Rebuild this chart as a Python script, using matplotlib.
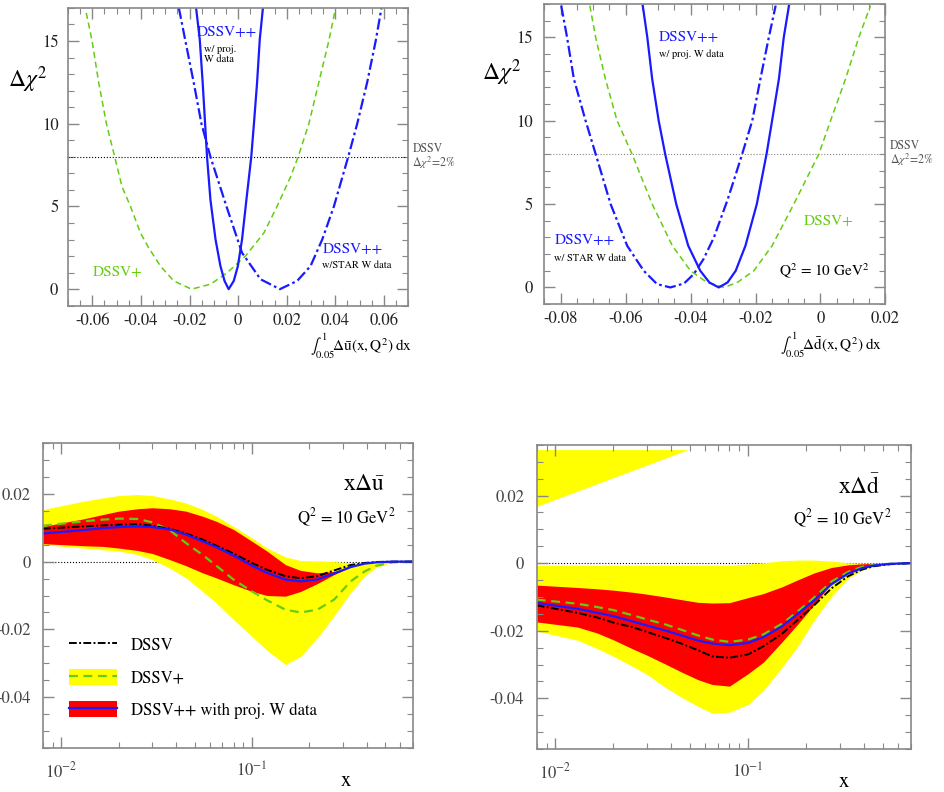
import matplotlib
matplotlib.use('Agg')
import matplotlib.pyplot as plt
from matplotlib.ticker import MultipleLocator, FuncFormatter
from matplotlib.patches import Patch
from matplotlib.lines import Line2D

plt.rcParams['font.family'] = ['STIXGeneral', 'DejaVu Serif']
plt.rcParams['mathtext.fontset'] = 'stix'

# ---- top left: chi2 profile vs integral of ubar
ul_dssvp_x = [-0.0625, -0.0601, -0.0574, -0.0542, -0.0508, -0.0478, -0.0443, -0.0402, -0.0368, -0.032,
              -0.0265, -0.0192, -0.0114, -0.0069, -0.0045, 0.003, 0.0106, 0.016, 0.0216, 0.0247,
              0.0291, 0.0332, 0.0373, 0.0397]
ul_dssvp_y = [16.7, 15, 12.5, 10, 8, 6.2, 5, 3.4, 2.5, 1.4,
              0.5, 0, 0.3, 0.75, 1.0, 2.0, 3.4, 5.0, 6.8, 8,
              10, 12.5, 15, 16.7]
ul_star_x = [-0.0244, -0.0217, -0.0183, -0.0151, -0.0114, -0.0048, 0.0016, 0.0092, 0.0172,
             0.0243, 0.0298, 0.0346, 0.0394, 0.0453, 0.049, 0.0531, 0.0566, 0.059]
ul_star_y = [17, 15, 12.5, 10, 8, 5, 2.2, 0.6, 0,
             0.5, 1.4, 3.0, 5.0, 8, 10, 12.5, 15, 17]
ul_proj_x = [-0.0173, -0.0158, -0.0146, -0.0136, -0.0128, -0.0114, -0.0093, -0.0073, -0.0056, -0.0039,
             -0.0018, -0.0001, 0.0016, 0.0034, 0.0054, 0.0065, 0.0078, 0.0089, 0.0102]
ul_proj_y = [17, 15.1, 12.5, 10, 8, 5.4, 3.0, 1.4, 0.5, 0,
             0.5, 1.4, 3.0, 5.4, 8, 10, 12.5, 15.1, 17]

# ---- top right: chi2 profile vs integral of dbar
dl_dssvp_x = [-0.071, -0.0692, -0.0662, -0.0626, -0.058, -0.0518, -0.0456, -0.040, -0.0349, -0.0297,
              -0.0256, -0.0205, -0.0149, -0.0082, -0.0005, 0.0031, 0.0077, 0.0118, 0.0154]
dl_dssvp_y = [16.9, 15, 12.5, 10, 8, 5, 2.5, 1, 0.3, 0,
              0.3, 1, 2.5, 5, 8, 10, 12.5, 15, 16.9]
dl_star_x = [-0.0798, -0.078, -0.0759, -0.0723, -0.0692, -0.0646, -0.0595, -0.0544, -0.0503, -0.0462,
             -0.042, -0.039, -0.036, -0.0328, -0.0287, -0.0267, -0.0241, -0.021, -0.0185, -0.0159, -0.0138]
dl_star_y = [16.9, 15, 12.5, 10, 8, 5, 2.5, 1, 0.2, 0,
             0.24, 0.8, 1.7, 3.0, 5.2, 6.4, 8, 10, 12.5, 15, 16.9]
dl_proj_x = [-0.0547, -0.0533, -0.0518, -0.0498, -0.0478, -0.0444, -0.0407, -0.037, -0.0342, -0.0313,
             -0.0286, -0.0261, -0.0231, -0.0196, -0.0166, -0.0149, -0.0128, -0.0113, -0.0097]
dl_proj_y = [16.9, 15, 12.5, 10, 8, 5, 2.5, 1, 0.3, 0,
             0.3, 1, 2.5, 5, 8, 10, 12.5, 15, 16.9]

# ---- bottom: x*Delta ubar and x*Delta dbar at Q2 = 10 GeV2
xg = [0.008, 0.013, 0.0165, 0.02, 0.025, 0.03, 0.037, 0.045, 0.055, 0.065, 0.08,
      0.1, 0.12, 0.15, 0.18, 0.22, 0.27, 0.33, 0.39, 0.45, 0.55, 0.7]

u_yel_hi = [0.0154, 0.0178, 0.0188, 0.0195, 0.0198, 0.0195, 0.0185, 0.0173, 0.0154, 0.0134, 0.0104,
            0.007, 0.004, 0.0014, 0.0003, 0.0002, 0.0, -0.0003, -0.0004, -0.0002, 0.0, 0.0]
u_yel_lo = [0.005, 0.004, 0.0035, 0.0031, 0.0021, 0.0006, -0.0019, -0.0048, -0.0088, -0.0122, -0.0171,
            -0.0221, -0.0262, -0.0304, -0.028, -0.0226, -0.016, -0.0091, -0.0043, -0.0016, -0.0002, 0.0]
u_red_hi = [0.0104, 0.0126, 0.0139, 0.0149, 0.0156, 0.0159, 0.0156, 0.0149, 0.0134, 0.0119, 0.0095,
            0.006, 0.0031, -0.0009, -0.0026, -0.0033, -0.0029, -0.0016, -0.0006, -0.0002, 0.0, 0.0]
u_red_lo = [0.0053, 0.0047, 0.0045, 0.004, 0.0033, 0.0024, 0.0006, -0.0012, -0.0033, -0.0048, -0.0068,
            -0.0088, -0.01, -0.0102, -0.0088, -0.0065, -0.0038, -0.0016, -0.0006, -0.0002, 0.0, 0.0]
u_dssv = [0.0097, 0.0104, 0.0107, 0.0109, 0.0111, 0.0106, 0.0097, 0.0083, 0.0065, 0.0047, 0.0024,
          -0.0004, -0.0024, -0.0043, -0.0049, -0.0043, -0.0026, -0.001, -0.0004, -0.0001, 0.0, 0.0]
u_dssvp = [0.0106, 0.0119, 0.0124, 0.0127, 0.0126, 0.0116, 0.0093, 0.0055, 0.002, -0.0012, -0.0053,
           -0.0088, -0.0114, -0.0142, -0.015, -0.0142, -0.0112, -0.0058, -0.0029, -0.0012, -0.0002, 0.0]
u_dssvpp = [0.0083, 0.0093, 0.0099, 0.0102, 0.0104, 0.0102, 0.0095, 0.008, 0.006, 0.0043, 0.0018,
            -0.0012, -0.0033, -0.0053, -0.0058, -0.0053, -0.0035, -0.0016, -0.0006, -0.0002, 0.0, 0.0]

d_yel_hi = [-0.0006, -0.0006, -0.0006, -0.0006, -0.0006, -0.0006, -0.0006, -0.0006, -0.0006, -0.0006, -0.0006,
            -0.0003, 0.0001, 0.0007, 0.0009, 0.0009, 0.0006, 0.0001, 0.0, 0.0, 0.0, 0.0]
d_yel_lo = [-0.0201, -0.0228, -0.0253, -0.0276, -0.0305, -0.033, -0.0367, -0.0397, -0.0424, -0.0444, -0.0441,
            -0.0418, -0.0377, -0.0308, -0.0248, -0.0169, -0.01, -0.0045, -0.0021, -0.0009, -0.0002, 0.0]
d_red_hi = [-0.0065, -0.0072, -0.0076, -0.008, -0.0086, -0.0092, -0.01, -0.0108, -0.0116, -0.0118, -0.0117,
            -0.0102, -0.009, -0.007, -0.005, -0.0029, -0.0013, -0.0005, -0.0002, -0.0001, 0.0, 0.0]
d_red_lo = [-0.0174, -0.0189, -0.0207, -0.0227, -0.0253, -0.0273, -0.0298, -0.0322, -0.0345, -0.0359, -0.0364,
            -0.0327, -0.0293, -0.0233, -0.0182, -0.0123, -0.006, -0.0026, -0.0011, -0.0004, -0.0001, 0.0]
d_dssv = [-0.0125, -0.0147, -0.0161, -0.0176, -0.0189, -0.0204, -0.0221, -0.0238, -0.0258, -0.0276, -0.028,
          -0.027, -0.0246, -0.0209, -0.0169, -0.0125, -0.0075, -0.0039, -0.0019, -0.0009, -0.0003, 0.0]
d_dssvp = [-0.0108, -0.012, -0.013, -0.0139, -0.0154, -0.0167, -0.0181, -0.0197, -0.0214, -0.0226, -0.0233,
           -0.0226, -0.0211, -0.0179, -0.0144, -0.0102, -0.0055, -0.0026, -0.0011, -0.0005, -0.0002, 0.0]
d_dssvpp = [-0.0118, -0.0135, -0.0147, -0.0157, -0.0172, -0.0185, -0.0199, -0.0214, -0.0229, -0.0238, -0.0243,
            -0.0236, -0.0219, -0.0187, -0.0151, -0.011, -0.0063, -0.0031, -0.0015, -0.0007, -0.0002, 0.0]
# odd yellow wedge in the top left corner of the dbar panel
d_wedge_x = [0.008, 0.0488]
d_wedge_lo = [0.0168, 0.0336]
d_wedge_hi = [0.0336, 0.0336]

BLUE = '#1a1aff'
GREEN = '#66cc11'
YELLOW = '#ffff00'
RED = '#ff0000'
FRAME = '#888888'
STAR_LS = (0, (5, 1.5, 1.2, 1.5))
DSSV_LS = (0, (4, 1.2, 1, 1.2))
GREEN_LS = (0, (4, 2.5))

fmt = FuncFormatter(lambda v, p: '%g' % (round(v, 6) + 0.0))


def frame(ax, fs, labcol):
    for s in ax.spines.values():
        s.set_color(FRAME)
        s.set_linewidth(1.2)
    ax.tick_params(which='both', direction='in', top=True, right=True, color=FRAME,
                   labelsize=fs, labelcolor=labcol)
    ax.tick_params(which='major', length=8, width=1.0)
    ax.tick_params(which='minor', length=4, width=0.8)


fig = plt.figure(figsize=(9.45, 7.92), dpi=100)

# ================= top left
ax = fig.add_axes([0.072, 0.614, 0.360, 0.376])
ax.axhline(8, ls=':', color='k', lw=0.8)
ax.plot(ul_dssvp_x, ul_dssvp_y, color=GREEN, ls=GREEN_LS, lw=1.1)
ax.plot(ul_star_x, ul_star_y, color=BLUE, ls=STAR_LS, lw=1.6)
ax.plot(ul_proj_x, ul_proj_y, color=BLUE, lw=1.6)
ax.set_xlim(-0.07, 0.07)
ax.set_ylim(-1, 17)
ax.xaxis.set_major_locator(MultipleLocator(0.02))
ax.xaxis.set_minor_locator(MultipleLocator(0.005))
ax.yaxis.set_major_locator(MultipleLocator(5))
ax.yaxis.set_minor_locator(MultipleLocator(1))
ax.xaxis.set_major_formatter(fmt)
frame(ax, 12, '#222222')
ax.tick_params(axis='y', pad=7)
ax.tick_params(axis='x', pad=5)
ax.text(-0.12, 0.76, r'$\Delta\chi^2$', transform=ax.transAxes, fontsize=17, ha='center', va='center')
ax.text(-0.0169, 15.5, 'DSSV++', color=BLUE, fontsize=11, va='center')
ax.text(-0.014, 14.2, 'w/ proj.\nW data', fontsize=7.5, va='center', linespacing=1.1)
ax.text(0.035, 2.4, 'DSSV++', color=BLUE, fontsize=11, va='center')
ax.text(0.0346, 1.45, 'w/STAR W data', fontsize=7.5, va='center')
ax.text(-0.060, 1.0, 'DSSV+', color=GREEN, fontsize=11, va='center')
ax.text(1.012, 8.0, 'DSSV\n$\\Delta\\chi^2$=2%', color='#555555', fontsize=8.5, va='center',
        transform=ax.get_yaxis_transform(), linespacing=1.0)
ax.text(0.71, -0.135, r'$\int_{0.05}^{1}\!\Delta\bar{\mathrm{u}}(\mathrm{x},\mathrm{Q}^2)\;\mathrm{dx}$',
        transform=ax.transAxes, fontsize=11, ha='left', va='center')

# ================= top right
ax = fig.add_axes([0.576, 0.616, 0.361, 0.379])
ax.axhline(8, ls=':', color='#888888', lw=0.8)
ax.plot(dl_dssvp_x, dl_dssvp_y, color=GREEN, ls=GREEN_LS, lw=1.1)
ax.plot(dl_star_x, dl_star_y, color=BLUE, ls=STAR_LS, lw=1.6)
ax.plot(dl_proj_x, dl_proj_y, color=BLUE, lw=1.6)
ax.set_xlim(-0.085, 0.02)
ax.set_ylim(-1, 17)
ax.xaxis.set_major_locator(MultipleLocator(0.02))
ax.xaxis.set_minor_locator(MultipleLocator(0.005))
ax.yaxis.set_major_locator(MultipleLocator(5))
ax.yaxis.set_minor_locator(MultipleLocator(1))
ax.xaxis.set_major_formatter(fmt)
frame(ax, 12, '#222222')
ax.tick_params(axis='y', pad=8)
ax.tick_params(axis='x', pad=5)
ax.text(-0.125, 0.77, r'$\Delta\chi^2$', transform=ax.transAxes, fontsize=17, ha='center', va='center')
ax.text(-0.0497, 15.0, 'DSSV++', color=BLUE, fontsize=11, va='center')
ax.text(-0.0497, 13.96, 'w/ proj. W data', fontsize=7.5, va='center')
ax.text(-0.0818, 2.8, 'DSSV++', color=BLUE, fontsize=11, va='center')
ax.text(-0.082, 1.76, 'w/ STAR W data', fontsize=7.5, va='center')
ax.text(-0.0051, 3.96, 'DSSV+', color=GREEN, fontsize=11, va='center')
ax.text(-0.0128, 1.0, r'Q$^2$ = 10 GeV$^2$', fontsize=11, va='center')
ax.text(1.012, 8.0, 'DSSV\n$\\Delta\\chi^2$=2%', color='#555555', fontsize=8.5, va='center',
        transform=ax.get_yaxis_transform(), linespacing=1.0)
ax.text(0.69, -0.135, r'$\int_{0.05}^{1}\!\Delta\bar{\mathrm{d}}(\mathrm{x},\mathrm{Q}^2)\;\mathrm{dx}$',
        transform=ax.transAxes, fontsize=11, ha='left', va='center')


def pdf_panel(ax, yel_lo, yel_hi, red_lo, red_hi, dssv, dssvp, dssvpp):
    ax.axhline(0, ls=':', color='k', lw=0.8, zorder=0.5)
    ax.fill_between(xg, yel_lo, yel_hi, color=YELLOW, lw=0, zorder=1)
    ax.fill_between(xg, red_lo, red_hi, color=RED, lw=0, zorder=1.1)
    ax.plot(xg, dssvp, color=GREEN, ls=GREEN_LS, lw=1.6, zorder=2)
    ax.plot(xg, dssv, color='k', ls=DSSV_LS, lw=1.4, zorder=2.1)
    ax.plot(xg, dssvpp, color=BLUE, lw=1.6, zorder=2.2)
    ax.set_xscale('log')
    ax.set_xlim(0.008, 0.7)
    ax.set_ylim(-0.055, 0.035)
    ax.yaxis.set_major_locator(MultipleLocator(0.02))
    ax.yaxis.set_minor_locator(MultipleLocator(0.005))
    ax.yaxis.set_major_formatter(fmt)
    frame(ax, 12, '#444444')
    ax.tick_params(axis='x', pad=10)
    ax.tick_params(axis='y', pad=9)
    ax.text(0.82, -0.108, 'x', transform=ax.transAxes, fontsize=15, ha='center', va='center')


# ================= bottom left
ax = fig.add_axes([0.0455, 0.0556, 0.3915, 0.385])
pdf_panel(ax, u_yel_lo, u_yel_hi, u_red_lo, u_red_hi, u_dssv, u_dssvp, u_dssvpp)
ax.text(0.503, 0.0227, r'$\mathrm{x}\Delta\bar{\mathrm{u}}$', fontsize=17, ha='right', va='center')
ax.text(0.567, 0.0128, r'Q$^2$ = 10 GeV$^2$', fontsize=12, ha='right', va='center')
handles = [Line2D([], [], color='k', ls=DSSV_LS, lw=1.4),
           (Patch(facecolor=YELLOW, lw=0), Line2D([], [], color=GREEN, ls=GREEN_LS, lw=1.6)),
           (Patch(facecolor=RED, lw=0), Line2D([], [], color=BLUE, lw=1.6))]
ax.legend(handles, ['DSSV', 'DSSV+', 'DSSV++ with proj. W data'], loc='lower left',
          bbox_to_anchor=(0.07, 0.095), frameon=False, fontsize=12, handlelength=2.9,
          handleheight=1.1, labelspacing=0.88, handletextpad=0.8, borderaxespad=0, borderpad=0)

# ================= bottom right
ax = fig.add_axes([0.568, 0.0543, 0.396, 0.384])
ax.fill_between(d_wedge_x, d_wedge_lo, d_wedge_hi, color=YELLOW, lw=0, zorder=1)
pdf_panel(ax, d_yel_lo, d_yel_hi, d_red_lo, d_red_hi, d_dssv, d_dssvp, d_dssvpp)
ax.text(0.484, 0.0227, r'$\mathrm{x}\Delta\bar{\mathrm{d}}$', fontsize=17, ha='right', va='center')
ax.text(0.556, 0.0130, r'Q$^2$ = 10 GeV$^2$', fontsize=12, ha='right', va='center')

fig.savefig('out.png', dpi=100)
